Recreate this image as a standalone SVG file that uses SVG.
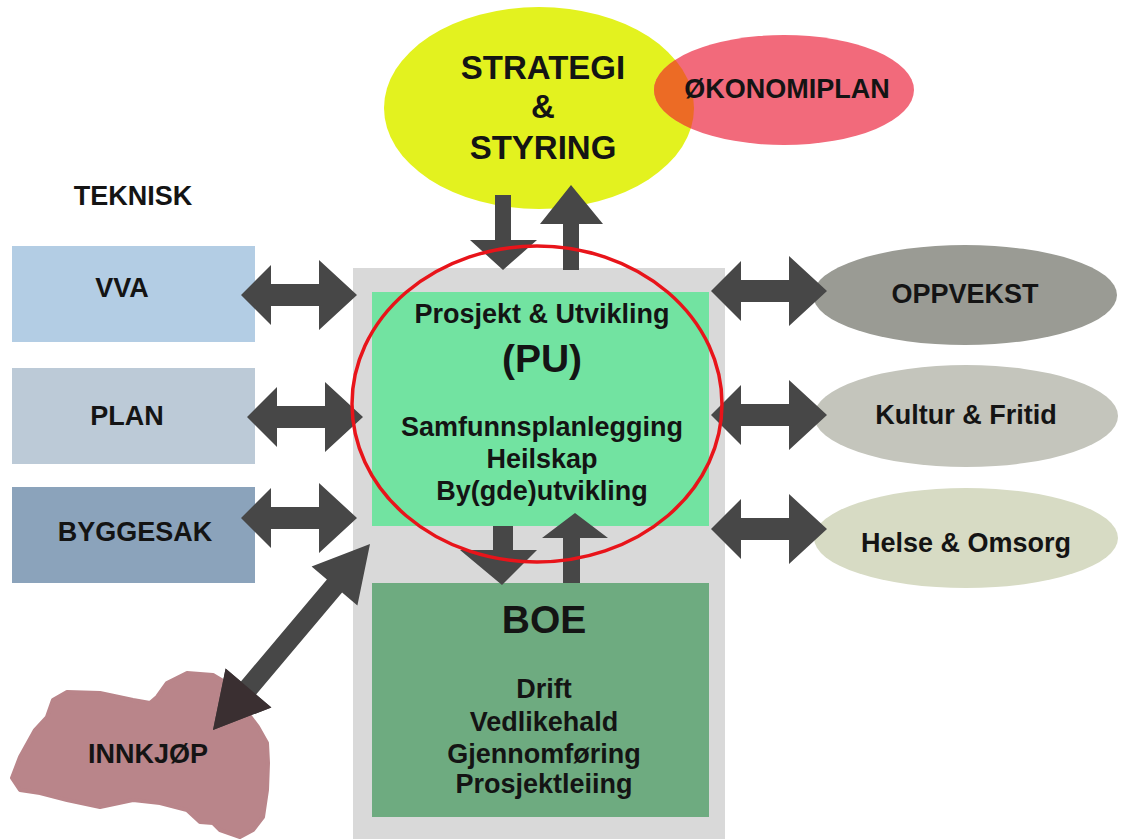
<svg xmlns="http://www.w3.org/2000/svg" width="1127" height="839" viewBox="0 0 1127 839">
<style>
text{font-family:"Liberation Sans",Arial,sans-serif;font-weight:bold;fill:#141414;text-anchor:middle}
.t26{font-size:27px}
.arrow{fill:#474747}
</style>
<defs>
<clipPath id="clipY"><ellipse cx="539" cy="108" rx="155" ry="101"/></clipPath>
</defs>
<rect width="1127" height="839" fill="#ffffff"/>
<g id="container"><rect x="353" y="268" width="372" height="571" fill="#d9d9d9"/></g>
<g id="strategi">
<ellipse cx="539" cy="108" rx="155" ry="101" fill="#e3f21f"/>
<text x="543" y="79" font-size="33">STRATEGI</text>
<text x="543" y="118" font-size="33">&amp;</text>
<text x="543" y="159" font-size="33">STYRING</text>
</g>
<g id="okonomiplan">
<ellipse cx="784" cy="90" rx="130" ry="55" fill="#f26a7b"/>
<ellipse cx="784" cy="90" rx="130" ry="55" fill="#ec6b25" clip-path="url(#clipY)"/>
<text x="787" y="98" font-size="27">ØKONOMIPLAN</text>
</g>
<g id="teknisk"><text x="133" y="205" class="t26">TEKNISK</text></g>
<g id="vva"><rect x="12" y="246" width="243" height="96" fill="#b3cde4"/><text x="122" y="297" class="t26">VVA</text></g>
<g id="plan"><rect x="12" y="368" width="243" height="96" fill="#bccad7"/><text x="127" y="425" class="t26">PLAN</text></g>
<g id="byggesak"><rect x="12" y="487" width="243" height="96" fill="#8ba3bb"/><text x="135" y="541" class="t26">BYGGESAK</text></g>
<g id="innkjop">
<path d="M12,778 L20,757 L35,730 L47,717 L53,700 L67,692 L100,693 L133,700 L150,703 L157,697 L167,683 L187,673 L213,675 L233,687 L243,707 L258,727 L267,743 L268,763 L267,790 L263,817 L253,830 L240,837 L220,830 L213,823 L200,822 L187,810 L160,803 L133,800 L100,807 L67,800 L40,793 L20,790 Z" fill="#b9858a" stroke="#b9858a" stroke-width="4" stroke-linejoin="round"/>
<text x="148" y="763" class="t26">INNKJØP</text>
</g>
<g id="pu">
<rect x="372" y="292" width="337" height="234" fill="#72e3a1"/>
<text x="542" y="323" class="t26">Prosjekt &amp; Utvikling</text>
<text x="542" y="372" font-size="39">(PU)</text>
<text x="542" y="436" class="t26">Samfunnsplanlegging</text>
<text x="542" y="468" class="t26">Heilskap</text>
<text x="542" y="500" class="t26">By(gde)utvikling</text>
</g>
<g id="boe">
<rect x="372" y="583" width="337" height="234" fill="#6eab80"/>
<text x="544" y="633" font-size="39">BOE</text>
<text x="544" y="698" class="t26">Drift</text>
<text x="544" y="731" class="t26">Vedlikehald</text>
<text x="544" y="763" class="t26">Gjennomføring</text>
<text x="544" y="793" class="t26">Prosjektleiing</text>
</g>
<g id="oppvekst"><ellipse cx="965" cy="295" rx="152" ry="50" fill="#9a9b94"/><text x="965" y="303" class="t26">OPPVEKST</text></g>
<g id="kultur"><ellipse cx="966" cy="416" rx="152" ry="51" fill="#c4c5bc"/><text x="966" y="424" class="t26">Kultur &amp; Fritid</text></g>
<g id="helse"><ellipse cx="966" cy="538" rx="152" ry="50" fill="#d7dbc4"/><text x="966" y="552" class="t26">Helse &amp; Omsorg</text></g>
<g id="connectors">
<path class="arrow" d="M241,295 L271,265 L271,284 L319,284 L319,260 L357,295 L319,330 L319,306 L271,306 L271,325 Z"/>
<path class="arrow" d="M247,417 L277,387 L277,406 L325,406 L325,382 L363,417 L325,452 L325,428 L277,428 L277,447 Z"/>
<path class="arrow" d="M241,518 L271,488 L271,507 L319,507 L319,483 L357,518 L319,553 L319,529 L271,529 L271,548 Z"/>
<path class="arrow" d="M711,291 L741,261 L741,280 L789,280 L789,256 L827,291 L789,326 L789,302 L741,302 L741,321 Z"/>
<path class="arrow" d="M711,415 L741,385 L741,404 L789,404 L789,380 L827,415 L789,450 L789,426 L741,426 L741,445 Z"/>
<path class="arrow" d="M711,529 L741,499 L741,518 L789,518 L789,494 L827,529 L789,564 L789,540 L741,540 L741,559 Z"/>
<path class="arrow" d="M495,195 L511,195 L511,240 L537,240 L503,270 L470,240 L495,240 Z"/>
<path class="arrow" d="M563,270 L563,224 L540,224 L571,185 L603,224 L579,224 L579,270 Z"/>
<path class="arrow" d="M493,526 L513,526 L513,550 L537,550 L502,585 L460,550 L493,550 Z"/>
<path class="arrow" d="M563,583 L563,538 L542,538 L575,513 L608,538 L580,538 L580,583 Z"/>
<path class="arrow" d="M370,544 L357.4,605.4 L342.1,592.5 L256.1,694.5 L271.4,707.4 L213,730 L225.6,668.6 L240.9,681.5 L326.9,579.6 L311.6,566.6 Z"/>
<path d="M271.4,707.4 L213,730 L225.6,668.6 Z" fill="#3a2f31"/>
</g>
<g id="highlight"><ellipse cx="537" cy="404" rx="185" ry="158" fill="none" stroke="#e8141a" stroke-width="3.5"/></g>
</svg>
